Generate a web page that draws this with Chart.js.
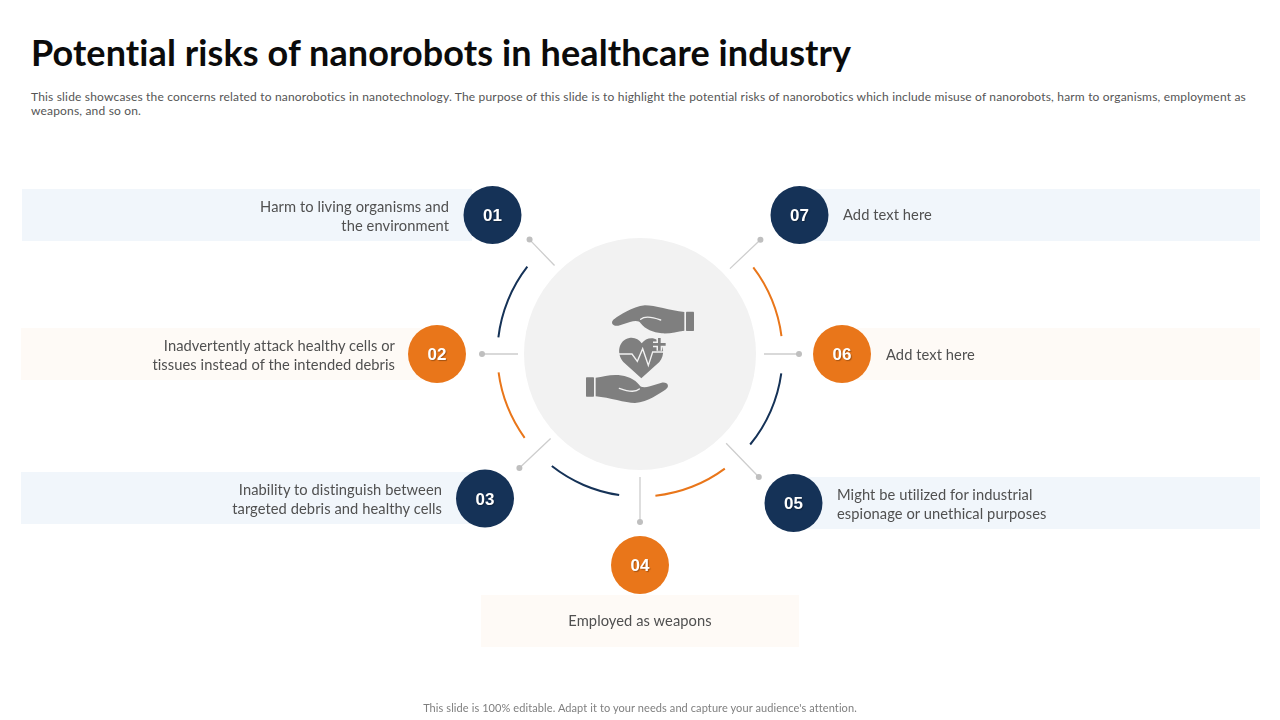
<!DOCTYPE html>
<html>
<head>
<meta charset="utf-8">
<title>Potential risks of nanorobots in healthcare industry</title>
<script src="https://cdn.jsdelivr.net/npm/chart.js@4"></script>
<style>
  html, body { margin: 0; padding: 0; background: #fff; }
  #slide { position: relative; width: 1280px; height: 720px; overflow: hidden; font-family: Lato, sans-serif; font-variant-ligatures: none; }
  canvas { position: absolute; }
  h1 { position: absolute; left: 31px; top: 29px; margin: 0; font-size: 36px; letter-spacing: 0.1px; line-height: 46px; font-weight: 700; color: #0b0b0b; white-space: nowrap; }
  #intro { position: absolute; left: 31px; top: 90px; margin: 0; font-size: 12px; letter-spacing: 0.18px; line-height: 14px; color: #555; white-space: nowrap; }
  #footer { position: absolute; left: 0; width: 1280px; top: 700px; text-align: center; font-size: 11px; letter-spacing: 0.09px; line-height: 15px; color: #7f7f7f; }
  .band { position: absolute; height: 52px; }
  .blue { background: #f1f6fb; }
  .cream { background: #fefaf6; }
  .label { position: absolute; font-size: 14.7px; letter-spacing: 0.07px; line-height: 19px; color: #505050; white-space: nowrap; }
  .num { position: absolute; width: 58px; height: 24px; text-align: center; color: #fff; font: bold 17px/24px "Liberation Sans", sans-serif; text-shadow: 1px 1px 1px rgba(0,0,0,.3); }
  #icon { position: absolute; left: 570px; top: 290px; width: 140px; height: 125px; }
</style>
</head>
<body>
<div id="slide">
  <h1>Potential risks of nanorobots in healthcare industry</h1>
  <p id="intro">This slide showcases the concerns related to nanorobotics in nanotechnology. The purpose of this slide is to highlight the potential risks of nanorobotics which include misuse of nanorobots, harm to organisms, employment as<br>weapons, and so on.</p>
  <div id="bands"></div>
  <canvas id="hubChart" width="1280" height="720" style="left:0;top:0"></canvas>
  <canvas id="ringChart" width="300" height="300" style="left:490px;top:204px"></canvas>
  <svg id="icon" viewBox="0 0 420 375">
    <g id="hand">
      <path fill="#7f7f7f" d="M134 86C150 76 185 50 225 46C255 46 300 62 343 66L343 122C320 125 300 132 275 130C250 128 225 118 212 100C208 92 195 92 180 96L145 107C125 110 120 94 134 86Z"/>
      <path fill="none" stroke="#f2f2f2" stroke-width="4" stroke-linecap="round" d="M212 88C225 76 245 80 272 90"/>
      <rect x="348" y="65" width="24" height="58" rx="2" fill="#7f7f7f"/>
    </g>
    <use href="#hand" transform="rotate(180 210 192.5)"/>
    <path fill="#7f7f7f" d="M214 265L160 216C138 190 146 150 178 144C194 141 207 149 215 160C226 146 245 140 262 150C282 165 286 195 268 216Z"/>
    <path fill="none" stroke="#f2f2f2" stroke-width="4" d="M146 192L186 192L202 214L218 176L235 226L248 186L284 186"/>
    <path fill="none" stroke="#f2f2f2" stroke-width="17" d="M268 144V182M249 163H287"/>
    <path fill="none" stroke="#7f7f7f" stroke-width="8" d="M268 144V182M249 163H287"/>
  </svg>
  <div id="labels"></div>
  <div id="footer">This slide is 100% editable. Adapt it to your needs and capture your audience's attention.</div>
</div>
<script>
// slide content
const stepNumbers = ["01", "02", "03", "04", "05", "06", "07"];
const stepTexts = [
  ["Harm to living organisms and", "the environment"],
  ["Inadvertently attack healthy cells or", "tissues instead of the intended debris"],
  ["Inability to distinguish between", "targeted debris and healthy cells"],
  ["Employed as weapons"],
  ["Might be utilized for industrial", "espionage or unethical purposes"],
  ["Add text here"],
  ["Add text here"],
];
const stepTones = ["navy", "orange", "navy", "orange", "navy", "orange", "navy"];

// ring segments clockwise from 52.6deg: arc, gap, arc, gap ... last one is the open top
const ringSpans = [30.2, 15, 31.6, 14.1, 30.3, 14.6, 29.8, 15.8, 28.6, 14.1, 31.1, 104.8];
const ringTones = ["orange", null, "navy", null, "orange", null, "navy", null, "orange", null, "navy", null];

// spokes, degrees clockwise from the top, px from hub centre
const spokeAngles = [316, 270, 226.6, 180, 136, 90, 46.5];
const spokeInner = [123, 122, 123, 123, 124, 124, 124];
const spokeOuter = [159, 158, 166, 168, 171, 159, 166];

// badge centres relative to hub centre
const badgeX = [-147.5, -203, -155, 0, 153.5, 202, 159.5];
const badgeY = [-139, 0, 144.5, 211, 149, 0, -139];

const colors = { navy: "#153257", orange: "#e9761a" };
const hubX = 640, hubY = 354;

// text bands, left/top/width in page px
const bandBoxes = [
  [22, 189, 450], [21, 328, 420], [21, 472, 464], [481, 595, 318],
  [793, 477, 467], [842, 328, 418], [800, 189, 460],
];
// label anchors: right aligned on the left side, left aligned on the right side
const labelBoxes = [
  { right: 831, top: 196.5 }, { right: 885, top: 335.5 }, { right: 838, top: 479.5 },
  { left: 481, width: 318, top: 611, center: true },
  { left: 837, top: 484.5 }, { left: 886, top: 345 }, { left: 843, top: 205 },
];

const bands = document.getElementById("bands");
const labels = document.getElementById("labels");
stepNumbers.forEach((n, i) => {
  const b = document.createElement("div");
  b.className = "band " + (stepTones[i] === "navy" ? "blue" : "cream");
  b.style.cssText = `left:${bandBoxes[i][0]}px;top:${bandBoxes[i][1]}px;width:${bandBoxes[i][2]}px`;
  bands.appendChild(b);

  const l = document.createElement("div");
  const box = labelBoxes[i];
  l.className = "label";
  l.innerHTML = stepTexts[i].join("<br>");
  l.style.top = box.top + "px";
  if (box.right !== undefined) { l.style.right = box.right + "px"; l.style.textAlign = "right"; }
  else { l.style.left = box.left + "px"; }
  if (box.center) { l.style.width = box.width + "px"; l.style.textAlign = "center"; }
  labels.appendChild(l);

  const t = document.createElement("div");
  t.className = "num";
  t.textContent = n;
  t.style.left = (hubX + badgeX[i] - 29) + "px";
  t.style.top = (hubY + badgeY[i] - 11) + "px";
  labels.appendChild(t);
});

const polar = (deg, r) => ({
  x: r * Math.sin(deg * Math.PI / 180),
  y: -r * Math.cos(deg * Math.PI / 180),
});

const spokeSets = spokeAngles.map((a, i) => ({
  data: [polar(a, spokeInner[i]), polar(a, spokeOuter[i])],
  showLine: true,
  borderColor: "#cdcdcd",
  borderWidth: 1.3,
  pointRadius: [0, 3],
  pointBackgroundColor: "#bfbfbf",
  pointBorderWidth: 0,
  order: 2,
}));

new Chart(document.getElementById("hubChart"), {
  type: "scatter",
  data: {
    datasets: [
      {
        // badges
        data: badgeX.map((x, i) => ({ x, y: badgeY[i] })),
        pointRadius: 29,
        pointBackgroundColor: stepTones.map((t) => colors[t]),
        pointBorderWidth: 0,
        order: 1,
      },
      ...spokeSets,
      {
        // grey hub
        data: [{ x: 0, y: 0 }],
        pointRadius: 116,
        pointBackgroundColor: "#f2f2f2",
        pointBorderWidth: 0,
        order: 3,
      },
    ],
  },
  options: {
    responsive: false,
    animation: false,
    events: [],
    layout: { padding: 0, autoPadding: false },
    plugins: { legend: { display: false }, tooltip: { enabled: false } },
    scales: {
      x: { type: "linear", display: false, min: -640, max: 640 },
      y: { type: "linear", display: false, min: -354, max: 366, reverse: true },
    },
  },
});

new Chart(document.getElementById("ringChart"), {
  type: "doughnut",
  data: {
    labels: ringSpans.map((_, i) => "segment " + i),
    datasets: [{
      data: ringSpans,
      backgroundColor: ringTones.map((t) => (t ? colors[t] : "rgba(0,0,0,0)")),
      borderWidth: 0,
    }],
  },
  options: {
    responsive: false,
    animation: false,
    events: [],
    rotation: 52.6,
    radius: 143.6,
    cutout: "98.6%",
    layout: { padding: 0, autoPadding: false },
    plugins: { legend: { display: false }, tooltip: { enabled: false } },
  },
});
</script>
</body>
</html>
